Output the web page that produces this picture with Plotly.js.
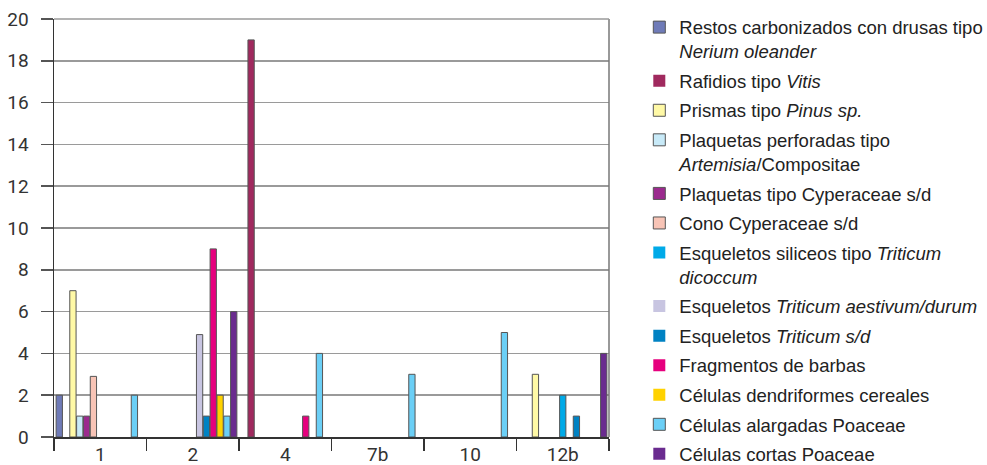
<!DOCTYPE html>
<html>
<head>
<meta charset="utf-8">
<script src="https://cdn.plot.ly/plotly-3.0.1.min.js"></script>
<style>html,body{margin:0;padding:0;background:#fff;}#chart{width:987px;height:465px;}</style>
</head>
<body>
<div id="chart"></div>
<script>
// Categories (samples)
const categories = ['1', '2', '4', '7b', '10', '12b'];

// Series values, one per category
const restosCarbonizados   = [2, 0, 0, 0, 0, 0];
const rafidiosVitis        = [0, 0, 19, 0, 0, 0];
const prismasPinus         = [7, 0, 0, 0, 0, 3];
const plaquetasPerforadas  = [1, 0, 0, 0, 0, 0];
const plaquetasCyperaceae  = [1, 0, 0, 0, 0, 0];
const conoCyperaceae       = [2.9, 0, 0, 0, 0, 0];
const esqueletosDicoccum   = [0, 0, 0, 0, 0, 2];
const esqueletosAestivum   = [0, 4.9, 0, 0, 0, 0];
const esqueletosTriticumSd = [0, 1, 0, 0, 0, 1];
const fragmentosBarbas     = [0, 9, 1, 0, 0, 0];
const celulasDendriformes  = [0, 2, 0, 0, 0, 0];
const celulasAlargadas     = [2, 1, 4, 3, 5, 0];
const celulasCortas        = [0, 6, 0, 0, 0, 4];

const seriesNames = [
  'Restos carbonizados con drusas tipo<br><i>Nerium oleander</i>',
  'Rafidios tipo <i>Vitis</i>',
  'Prismas tipo <i>Pinus sp.</i>',
  'Plaquetas perforadas tipo<br><i>Artemisia</i>/Compositae',
  'Plaquetas tipo Cyperaceae s/d',
  'Cono Cyperaceae s/d',
  'Esqueletos siliceos tipo <i>Triticum</i><br><i>dicoccum</i>',
  'Esqueletos <i>Triticum aestivum/durum</i>',
  'Esqueletos <i>Triticum s/d</i>',
  'Fragmentos de barbas',
  'Células dendriformes cereales',
  'Células alargadas Poaceae',
  'Células cortas Poaceae'
];

const seriesValues = [
  restosCarbonizados, rafidiosVitis, prismasPinus, plaquetasPerforadas,
  plaquetasCyperaceae, conoCyperaceae, esqueletosDicoccum, esqueletosAestivum,
  esqueletosTriticumSd, fragmentosBarbas, celulasDendriformes, celulasAlargadas,
  celulasCortas
];

const seriesColors = [
  '#6f7bb8', '#a0295e', '#fff9a6', '#c8eaf8', '#9b2a8e', '#f8c4b6', '#00aae8',
  '#c8c5e1', '#0082c3', '#e6007e', '#ffd200', '#6bcff6', '#6a2b8f'
];

const data = seriesValues.map((vals, i) => ({
  type: 'bar',
  x: categories,
  y: vals,
  name: seriesNames[i],
  legendgroup: 'g' + i,
  marker: {
    color: seriesColors[i],
    line: { color: '#555555', width: vals.map(v => (v === 0 ? 0 : 1)) }
  },
  hoverinfo: 'x+y+name'
}));

const layout = {
  width: 987,
  height: 465,
  margin: { l: 54, r: 378, t: 19, b: 28, autoexpand: false },
  paper_bgcolor: '#ffffff',
  plot_bgcolor: '#ffffff',
  barmode: 'group',
  bargap: 0.04,
  bargroupgap: 0.08,
  showlegend: true,
  legend: {
    x: 1.0546, xanchor: 'left',
    y: 1.0249, yanchor: 'top',
    traceorder: 'grouped',
    tracegroupgap: 2.5,
    valign: 'top',
    maxheight: 1000,
    font: { family: 'Liberation Sans, Arial, sans-serif', size: 18.5, color: '#222222' },
    bgcolor: 'rgba(0,0,0,0)'
  },
  xaxis: {
    type: 'category',
    tickson: 'boundaries',
    ticks: 'outside',
    ticklen: 12,
    tickcolor: '#333333',
    tickwidth: 1.5,
    showline: true,
    linecolor: '#333333',
    linewidth: 1.5,
    showgrid: false,
    tickfont: { family: 'Roboto, DejaVu Sans, sans-serif', size: 19, color: '#333333' },
    fixedrange: true
  },
  yaxis: {
    range: [0, 20],
    dtick: 2,
    tick0: 0,
    ticks: 'outside',
    ticklen: 12,
    tickcolor: '#555555',
    tickwidth: 1.5,
    ticklabelstandoff: 8,
    showline: true,
    linecolor: '#333333',
    linewidth: 1.5,
    showgrid: true,
    gridcolor: '#9a9a9a',
    gridwidth: 1.5,
    zeroline: false,
    tickfont: { family: 'Roboto, DejaVu Sans, sans-serif', size: 19, color: '#333333' },
    fixedrange: true
  },
  shapes: [
    { type: 'line', xref: 'paper', yref: 'paper', x0: 1, x1: 1, y0: 0, y1: 1,
      line: { color: '#777777', width: 1.5 } },
    { type: 'line', xref: 'paper', yref: 'paper', x0: 0, x1: 1, y0: 1, y1: 1,
      line: { color: '#9a9a9a', width: 1.5 } }
  ]
};

Plotly.newPlot('chart', data, layout, { displayModeBar: false, staticPlot: true });
</script>
</body>
</html>
